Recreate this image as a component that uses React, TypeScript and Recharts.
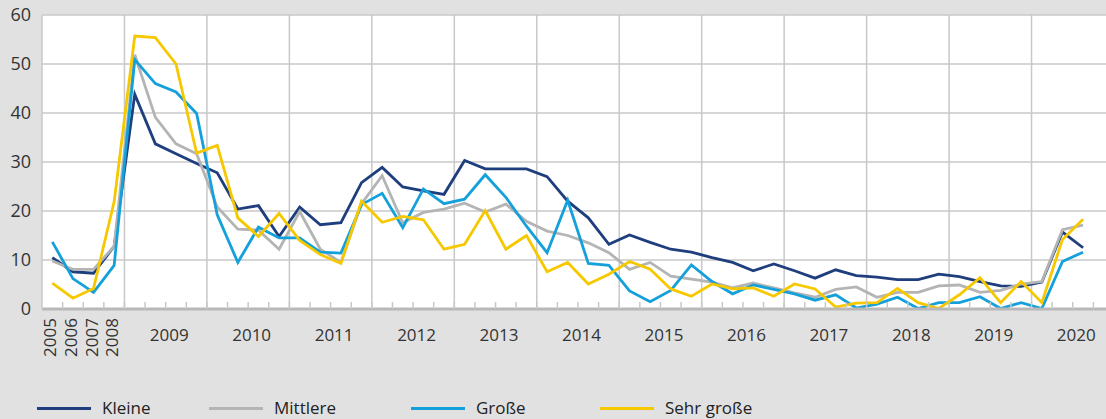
import React from "react";
import { LineChart, Line, XAxis, YAxis, CartesianGrid, ReferenceLine, Legend } from "recharts";

// Periods: annual 2005-2008, then quarterly 2009 Q1 - 2020 Q4
const periods: string[] = [
  "2005", "2006", "2007", "2008",
  "2009 Q1", "2009 Q2", "2009 Q3", "2009 Q4",
  "2010 Q1", "2010 Q2", "2010 Q3", "2010 Q4",
  "2011 Q1", "2011 Q2", "2011 Q3", "2011 Q4",
  "2012 Q1", "2012 Q2", "2012 Q3", "2012 Q4",
  "2013 Q1", "2013 Q2", "2013 Q3", "2013 Q4",
  "2014 Q1", "2014 Q2", "2014 Q3", "2014 Q4",
  "2015 Q1", "2015 Q2", "2015 Q3", "2015 Q4",
  "2016 Q1", "2016 Q2", "2016 Q3", "2016 Q4",
  "2017 Q1", "2017 Q2", "2017 Q3", "2017 Q4",
  "2018 Q1", "2018 Q2", "2018 Q3", "2018 Q4",
  "2019 Q1", "2019 Q2", "2019 Q3", "2019 Q4",
  "2020 Q1", "2020 Q2", "2020 Q3", "2020 Q4",
];

const kleine: (number | null)[] = [
  10.5, 7.6, 7.3, 12.8,
  43.8, 33.7, 31.7, 29.7,
  27.8, 20.4, 21.1, 14.8,
  20.8, 17.2, 17.6, 25.8,
  28.9, 24.9, 24.1, 23.4,
  30.3, 28.6, 28.6, 28.6,
  27.0, 22.0, 18.6, 13.2,
  15.1, 13.6, 12.2, 11.6,
  10.5, 9.5, 7.8, 9.2,
  7.8, 6.3, 8.0, 6.8,
  6.5, 6.0, 6.0, 7.1,
  6.6, 5.6, 4.7, 4.6,
  5.5, 15.7, 12.5, null,
];

const mittlere: (number | null)[] = [
  9.8, 8.1, 8.1, 12.8,
  51.9, 39.1, 33.7, 31.7,
  20.8, 16.3, 16.1, 12.2,
  19.9, 12.2, 9.5, 21.5,
  27.2, 17.6, 19.7, 20.4,
  21.6, 19.8, 21.4, 17.9,
  15.9, 15.0, 13.5, 11.5,
  8.1, 9.5, 6.7, 6.1,
  5.5, 4.3, 5.3, 4.3,
  3.3, 2.4, 4.0, 4.5,
  2.4, 3.4, 3.4, 4.7,
  4.9, 3.4, 3.8, 5.1,
  5.6, 16.2, 17.1, null,
];

const grosse: (number | null)[] = [
  13.7, 6.2, 3.4, 8.9,
  50.9, 46.0, 44.3, 39.9,
  19.2, 9.5, 16.7, 14.5,
  14.5, 11.6, 11.4, 21.3,
  23.6, 16.6, 24.5, 21.5,
  22.4, 27.4, 22.8, 16.9,
  11.5, 22.2, 9.3, 8.9,
  3.7, 1.5, 3.8, 9.0,
  5.6, 3.1, 4.9, 4.0,
  3.1, 1.8, 2.9, 0.2,
  1.0, 2.4, 0.1, 1.3,
  1.3, 2.5, 0.1, 1.3,
  0.1, 9.7, 11.6, null,
];

const sehrGrosse: (number | null)[] = [
  5.3, 2.2, 4.2, 21.9,
  55.7, 55.4, 50.0, 31.8,
  33.4, 18.6, 14.8, 19.5,
  14.0, 11.1, 9.3, 22.0,
  17.7, 18.9, 18.2, 12.2,
  13.2, 20.1, 12.2, 15.0,
  7.6, 9.5, 5.1, 7.1,
  9.7, 8.1, 4.1, 2.6,
  5.1, 4.1, 4.3, 2.6,
  5.1, 4.1, 0.4, 1.2,
  1.3, 4.2, 1.3, 0.1,
  2.9, 6.4, 1.3, 5.6,
  1.3, 14.2, 18.3, null,
];

const annualLabels: string[] = ["2005", "2006", "2007", "2008"];
const yearLabels: string[] = [
  "2009", "2010", "2011", "2012", "2013", "2014",
  "2015", "2016", "2017", "2018", "2019", "2020",
];
const yTicks: number[] = [0, 10, 20, 30, 40, 50, 60];

const seriesNames = ["Kleine", "Mittlere", "Große", "Sehr große"];
const seriesKeys = ["kleine", "mittlere", "grosse", "sehrGrosse"];
const seriesColors = ["#1f3e7e", "#b4b4b4", "#14a0da", "#f6c800"];

const data = periods.map((p, i) => ({
  x: i + 0.5,
  period: p,
  kleine: kleine[i],
  mittlere: mittlere[i],
  grosse: grosse[i],
  sehrGrosse: sehrGrosse[i],
}));

// Year boundaries (start of each quarterly year)
const yearStarts = periods
  .map((p, i) => (p.endsWith("Q1") ? i : -1))
  .filter((i) => i >= 0);
const annualTickValues = annualLabels.map((_, i) => i + 0.5);
const yearCenterValues = yearStarts.map((s) => s + 2);
const tickSet = new Set<number>();
for (let i = 0; i <= periods.length; i++) tickSet.add(i);
annualTickValues.forEach((v) => tickSet.add(v));
yearCenterValues.forEach((v) => tickSet.add(v));
const xTicks = Array.from(tickSet).sort((a, b) => a - b);

const GRID = "#c8c8c8";
const TEXT = "#333";
const FONT = "'Open Sans', 'Noto Sans', sans-serif";

const XTick = (props: any) => {
  const { x, y, payload } = props;
  const v: number = payload.value;
  const els: React.ReactNode[] = [];
  if (Number.isInteger(v) && v > 0 && v < periods.length) {
    els.push(<line key="t" x1={x} x2={x} y1={y} y2={y - 7} stroke={GRID} strokeWidth={1.5} />);
  }
  const ai = annualTickValues.indexOf(v);
  if (ai >= 0) {
    const ax = x + 4;
    const ay = y + 9;
    els.push(
      <text key="a" x={ax} y={ay} transform={`rotate(-90, ${ax}, ${ay})`} textAnchor="end" fontSize={17} fill={TEXT} fontFamily={FONT}>
        {annualLabels[ai]}
      </text>
    );
  }
  const yi = yearCenterValues.indexOf(v);
  if (yi >= 0) {
    els.push(
      <text key="y" x={x + 3.5} y={y + 32} textAnchor="middle" fontSize={17} fill={TEXT} fontFamily={FONT}>
        {yearLabels[yi]}
      </text>
    );
  }
  return <g>{els}</g>;
};

const legendLefts = [37, 209, 411, 600];

const renderLegend = () => (
  <div style={{ position: "relative", height: 40, fontFamily: FONT }}>
    {seriesNames.map((name, i) => (
      <div key={name} style={{ position: "absolute", left: legendLefts[i], top: 19, display: "flex", alignItems: "center", height: 20 }}>
        <div style={{ width: 54, height: 3, background: seriesColors[i] }} />
        <span style={{ marginLeft: 11, fontSize: 17, color: "#222", lineHeight: "20px" }}>{name}</span>
      </div>
    ))}
  </div>
);

export default function App() {
  return (
    <div
      style={{
        position: "fixed",
        left: 0,
        top: 0,
        width: 1106,
        height: 419,
        overflow: "hidden",
        background: "#e1e1e1",
        fontFamily: FONT,
      }}
    >
      <LineChart width={1114} height={419} data={data} margin={{ top: 15, right: 0, left: 0, bottom: 0 }}>
        <CartesianGrid vertical={false} stroke={GRID} strokeWidth={1.5} fill="#ffffff" />
        {yearStarts.map((s) => (
          <ReferenceLine key={s} x={s} stroke={GRID} strokeWidth={1.5} ifOverflow="visible" />
        ))}
        <XAxis
          type="number"
          dataKey="x"
          domain={[0, periods.length]}
          ticks={xTicks}
          interval={0}
          tickLine={false}
          tickSize={0}
          tickMargin={0}
          tick={<XTick />}
          axisLine={{ stroke: "#b8b8b8", strokeWidth: 3 }}
          height={70}
          allowDecimals
        />
        <YAxis
          type="number"
          domain={[0, 60]}
          ticks={yTicks}
          width={42}
          tickLine={false}
          tickMargin={5}
          axisLine={{ stroke: GRID, strokeWidth: 1.5 }}
          tick={{ fontSize: 18, fill: TEXT, fontFamily: FONT }}
        />
        {seriesKeys.map((k, i) => (
          <Line
            key={k}
            type="linear"
            dataKey={k}
            name={seriesNames[i]}
            stroke={seriesColors[i]}
            strokeWidth={2.8}
            dot={false}
            activeDot={false}
            isAnimationActive={false}
          />
        ))}
        <Legend verticalAlign="bottom" content={renderLegend} wrapperStyle={{ height: 40 }} />
      </LineChart>
    </div>
  );
}
